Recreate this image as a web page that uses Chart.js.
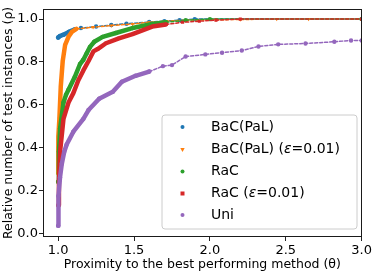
<!DOCTYPE html>
<html>
<head>
<meta charset="utf-8">
<script src="https://cdn.jsdelivr.net/npm/chart.js"></script>
<style>
html,body{margin:0;padding:0;background:#fff;}
#wrap{width:374px;height:273px;position:relative;}
</style>
</head>
<body>
<div id="wrap"><canvas id="c" width="374" height="273"></canvas></div>
<script>
// ---- data ----
const seriesNames = ["BaC(PaL)", "BaC(PaL) (ε=0.01)", "RaC", "RaC (ε=0.01)", "Uni"];

const bacX = [1.0, 1.01, 1.035, 1.07, 1.11, 1.15, 1.25, 1.35, 1.45, 1.6, 1.7, 1.8, 1.9, 3.0];
const bacY = [0.914, 0.92, 0.927, 0.94, 0.952, 0.958, 0.965, 0.972, 0.978, 0.986, 0.99, 0.995, 1.0, 1.0];

const bacEpsX = [1.0, 1.0, 1.002, 1.008, 1.017, 1.03, 1.046, 1.068, 1.09, 1.12, 1.23, 1.35, 1.49, 1.6, 1.71, 1.85, 2.04, 2.2, 2.44, 2.65, 3.0];
const bacEpsY = [0.28, 0.40, 0.45, 0.534, 0.684, 0.804, 0.88, 0.917, 0.94, 0.954, 0.962, 0.97, 0.977, 0.985, 0.99, 0.995, 0.997, 0.998, 1.0, 1.0, 1.0];

const racX = [1.0, 1.005, 1.013, 1.035, 1.052, 1.068, 1.11, 1.144, 1.166, 1.188, 1.21, 1.238, 1.293, 1.38, 1.49, 1.62, 1.71, 1.84, 2.0, 3.0];
const racY = [0.24, 0.38, 0.49, 0.61, 0.647, 0.67, 0.73, 0.79, 0.81, 0.84, 0.87, 0.894, 0.917, 0.935, 0.958, 0.977, 0.985, 0.995, 1.0, 1.0];

const racEpsX = [1.0, 1.005, 1.013, 1.035, 1.068, 1.10, 1.133, 1.166, 1.2, 1.232, 1.26, 1.315, 1.40, 1.49, 1.62, 1.71, 1.82, 1.93, 2.04, 2.2, 3.0];
const racEpsY = [0.13, 0.25, 0.384, 0.534, 0.61, 0.654, 0.714, 0.76, 0.804, 0.849, 0.86, 0.887, 0.91, 0.93, 0.965, 0.975, 0.985, 0.99, 0.995, 1.0, 1.0];

const uniX = [1.0, 1.002, 1.012, 1.024, 1.04, 1.056, 1.10, 1.166, 1.20, 1.27, 1.36, 1.42, 1.51, 1.60, 1.69, 1.75, 1.84, 1.97, 2.08, 2.21, 2.32, 2.45, 2.63, 2.82, 2.93, 3.0];
const uniY = [0.035, 0.174, 0.26, 0.324, 0.38, 0.414, 0.474, 0.534, 0.575, 0.628, 0.66, 0.707, 0.735, 0.755, 0.78, 0.785, 0.825, 0.835, 0.843, 0.853, 0.872, 0.882, 0.886, 0.894, 0.90, 0.90];

const xTicks = [1.0, 1.5, 2.0, 2.5, 3.0];
const yTicks = [0.0, 0.2, 0.4, 0.6, 0.8, 1.0];

// ---- styling ----
const colors = ["#1f77b4", "#ff7f0e", "#2ca02c", "#d62728", "#9467bd"];
const styles = [
  {pointStyle: "circle", rotation: 0, dense: 1.12},
  {pointStyle: "triangle", rotation: 180, dense: 1.12},
  {pointStyle: "circle", rotation: 0, dense: 1.75},
  {pointStyle: "rect", rotation: 0, dense: 1.72},
  {pointStyle: "circle", rotation: 0, dense: 1.62}
];
const xs = [bacX, bacEpsX, racX, racEpsX, uniX];
const ys = [bacY, bacEpsY, racY, racEpsY, uniY];

const datasets = seriesNames.map((name, i) => {
  const st = styles[i];
  return {
    label: name,
    data: xs[i].map((x, k) => ({x: x, y: ys[i][k]})),
    borderColor: colors[i],
    backgroundColor: colors[i],
    pointStyle: st.pointStyle,
    pointRotation: st.rotation,
    pointRadius: 2.2,
    pointBorderWidth: 0,
    pointBackgroundColor: colors[i],
    borderWidth: 1.5,
    borderCapStyle: "round",
    borderJoinStyle: "round",
    tension: 0,
    order: 5 - i,
    segment: {
      borderWidth: ctx => ctx.p1.parsed.x <= st.dense ? 4.5 : 1.5,
      borderDash: ctx => ctx.p1.parsed.x <= st.dense ? [] : [3, 2]
    }
  };
});

const FONT = "DejaVu Sans";

const framePlugin = {
  id: "frame",
  afterDatasetsDraw(chart) {
    const a = chart.chartArea, ctx = chart.ctx;
    ctx.save();
    ctx.strokeStyle = "#1a1a1a";
    ctx.lineWidth = 1;
    ctx.strokeRect(Math.round(a.left) + 0.5, Math.round(a.top) + 0.5, Math.round(a.right - a.left) - 1, Math.round(a.bottom - a.top) - 1);
    ctx.restore();
  }
};

function drawMarker(ctx, style, x, y, r) {
  ctx.beginPath();
  if (style.pointStyle === "circle") {
    ctx.arc(x, y, r, 0, Math.PI * 2);
  } else if (style.pointStyle === "rect") {
    ctx.rect(x - r, y - r, 2 * r, 2 * r);
  } else {
    ctx.moveTo(x - r * 1.1, y - r * 0.7);
    ctx.lineTo(x + r * 1.1, y - r * 0.7);
    ctx.lineTo(x, y + r * 1.2);
    ctx.closePath();
  }
  ctx.fill();
}

const legendPlugin = {
  id: "boxLegend",
  afterDraw(chart) {
    const ctx = chart.ctx;
    const bx = 162, by = 115, bw = 195, bh = 114, r = 3;
    ctx.save();
    ctx.beginPath();
    ctx.moveTo(bx + r, by);
    ctx.arcTo(bx + bw, by, bx + bw, by + bh, r);
    ctx.arcTo(bx + bw, by + bh, bx, by + bh, r);
    ctx.arcTo(bx, by + bh, bx, by, r);
    ctx.arcTo(bx, by, bx + bw, by, r);
    ctx.closePath();
    ctx.fillStyle = "rgba(255,255,255,0.8)";
    ctx.fill();
    ctx.strokeStyle = "#cccccc";
    ctx.lineWidth = 1;
    ctx.stroke();
    const rowY = [127, 149.5, 171.5, 193.5, 215];
    ctx.textBaseline = "middle";
    seriesNames.forEach((name, i) => {
      ctx.fillStyle = colors[i];
      drawMarker(ctx, styles[i], 182.5, rowY[i], 2);
      ctx.fillStyle = "#000";
      let x = 211;
      const parts = name.split("ε");
      parts.forEach((p, k) => {
        ctx.font = "14px '" + FONT + "'";
        ctx.fillText(p, x, rowY[i]);
        x += ctx.measureText(p).width;
        if (k < parts.length - 1) {
          ctx.font = "italic 14px '" + FONT + "'";
          ctx.fillText("ε", x, rowY[i]);
          x += ctx.measureText("ε").width;
        }
      });
    });
    ctx.restore();
  }
};

new Chart(document.getElementById("c"), {
  type: "line",
  data: {datasets: datasets},
  options: {
    responsive: false,
    animation: false,
    devicePixelRatio: 1,
    layout: {padding: {top: 1, right: 10, left: 0, bottom: 0}},
    plugins: {legend: {display: false}, tooltip: {enabled: false}},
    scales: {
      x: {
        type: "linear",
        min: 0.9,
        max: 3.0,
        afterBuildTicks: axis => { axis.ticks = xTicks.map(v => ({value: v})); },
        afterFit: s => { s.height = 36; },
        grid: {drawOnChartArea: false, drawTicks: true, tickLength: 4, color: "#222"},
        border: {display: false},
        ticks: {
          color: "#000",
          padding: 2,
          maxRotation: 0,
          font: {family: FONT, size: 13},
          callback: v => Number(v).toFixed(1)
        },
        title: {
          display: true,
          text: "Proximity to the best performing method (θ)",
          color: "#000",
          font: {family: FONT, size: 12.5},
          padding: {top: 0, bottom: 1}
        }
      },
      y: {
        type: "linear",
        min: -0.018,
        max: 1.048,
        afterBuildTicks: axis => { axis.ticks = yTicks.map(v => ({value: v})); },
        afterFit: s => { s.width = 43; },
        grid: {drawOnChartArea: false, drawTicks: true, tickLength: 4, color: "#222"},
        border: {display: false},
        ticks: {
          color: "#000",
          padding: 1,
          font: {family: FONT, size: 13},
          callback: v => Number(v).toFixed(1)
        },
        title: {
          display: true,
          text: "Relative number of test instances (ρ)",
          color: "#000",
          font: {family: FONT, size: 12.5},
          padding: {top: 1, bottom: 0}
        }
      }
    }
  },
  plugins: [framePlugin, legendPlugin]
});
</script>
</body>
</html>
